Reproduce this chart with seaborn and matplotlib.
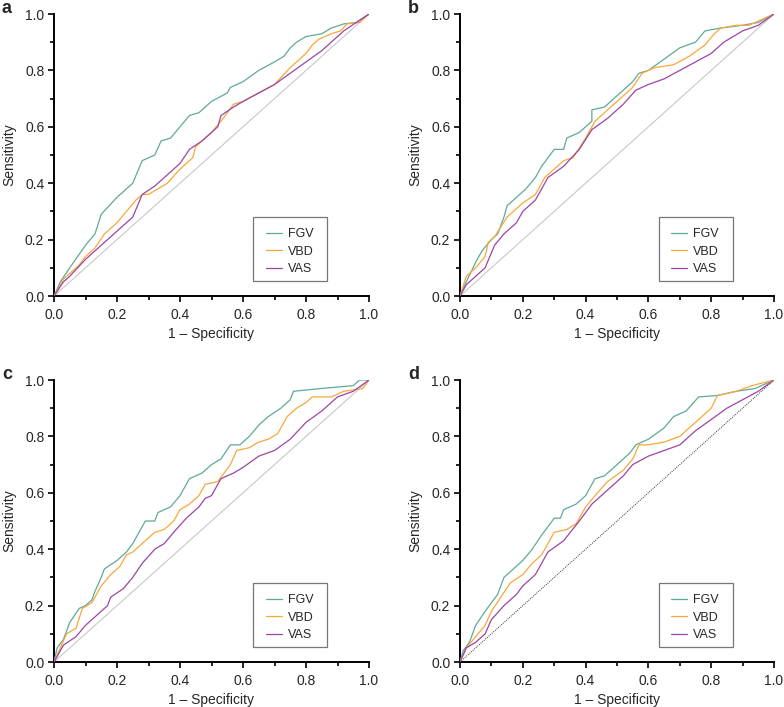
import matplotlib
matplotlib.use("Agg")
import matplotlib.pyplot as plt
import seaborn as sns
import pandas as pd
from matplotlib.ticker import MultipleLocator
from matplotlib.patches import Rectangle

sns.set_style("ticks")
plt.rcParams['font.family'] = ['Liberation Sans', 'DejaVu Sans']

series_names = ["FGV", "VBD", "VAS"]
colors = {"FGV": "#5fa99b", "VBD": "#f7a83a", "VAS": "#9c45a6"}
panel_labels = ["a", "b", "c", "d"]
tick_vals = [0, 0.2, 0.4, 0.6, 0.8, 1.0]
tick_labels = ["0.0", "0.2", "0.4", "0.6", "0.8", "1.0"]

# ---- Panel a ----
a_fgv_x = [0, 0.02, 0.05, 0.1, 0.13, 0.15, 0.2, 0.22, 0.25, 0.28, 0.32, 0.34, 0.37, 0.40, 0.43, 0.46, 0.5, 0.55, 0.56, 0.6, 0.65, 0.7, 0.73, 0.75, 0.77, 0.8, 0.85, 0.88, 0.92, 0.96, 1]
a_fgv_y = [0, 0.05, 0.10, 0.18, 0.22, 0.29, 0.35, 0.37, 0.40, 0.48, 0.50, 0.55, 0.56, 0.60, 0.64, 0.65, 0.69, 0.72, 0.74, 0.76, 0.80, 0.83, 0.85, 0.88, 0.90, 0.92, 0.93, 0.95, 0.965, 0.97, 1]
a_vbd_x = [0, 0.03, 0.05, 0.08, 0.1, 0.13, 0.16, 0.2, 0.23, 0.26, 0.28, 0.3, 0.33, 0.36, 0.4, 0.43, 0.44, 0.45, 0.5, 0.53, 0.57, 0.6, 0.65, 0.7, 0.75, 0.8, 0.82, 0.84, 0.88, 0.91, 0.93, 0.97, 1]
a_vbd_y = [0, 0.06, 0.08, 0.11, 0.14, 0.17, 0.22, 0.26, 0.30, 0.34, 0.36, 0.36, 0.38, 0.40, 0.45, 0.48, 0.49, 0.53, 0.58, 0.62, 0.68, 0.69, 0.72, 0.75, 0.81, 0.86, 0.89, 0.91, 0.93, 0.94, 0.965, 0.97, 1]
a_vas_x = [0, 0.03, 0.05, 0.1, 0.15, 0.2, 0.25, 0.28, 0.32, 0.36, 0.4, 0.43, 0.47, 0.5, 0.52, 0.53, 0.57, 0.6, 0.65, 0.7, 0.75, 0.8, 0.85, 0.88, 0.92, 0.96, 1]
a_vas_y = [0, 0.05, 0.07, 0.13, 0.18, 0.23, 0.28, 0.36, 0.39, 0.43, 0.47, 0.52, 0.55, 0.58, 0.60, 0.64, 0.67, 0.69, 0.72, 0.75, 0.79, 0.83, 0.87, 0.90, 0.94, 0.97, 1]

# ---- Panel b ----
b_fgv_x = [0, 0.02, 0.05, 0.07, 0.1, 0.12, 0.14, 0.15, 0.18, 0.21, 0.24, 0.26, 0.28, 0.3, 0.33, 0.34, 0.38, 0.42, 0.42, 0.46, 0.5, 0.55, 0.57, 0.6, 0.65, 0.7, 0.75, 0.78, 0.83, 0.9, 0.95, 1]
b_fgv_y = [0, 0.05, 0.12, 0.16, 0.20, 0.22, 0.28, 0.32, 0.35, 0.38, 0.42, 0.46, 0.49, 0.52, 0.52, 0.56, 0.58, 0.62, 0.66, 0.67, 0.71, 0.76, 0.79, 0.80, 0.84, 0.88, 0.90, 0.94, 0.95, 0.96, 0.97, 1]
b_vbd_x = [0, 0.02, 0.05, 0.08, 0.09, 0.11, 0.15, 0.2, 0.24, 0.27, 0.3, 0.33, 0.36, 0.4, 0.43, 0.47, 0.52, 0.55, 0.58, 0.62, 0.68, 0.73, 0.78, 0.81, 0.83, 0.88, 0.92, 0.96, 1]
b_vbd_y = [0, 0.07, 0.10, 0.14, 0.19, 0.21, 0.28, 0.33, 0.36, 0.42, 0.45, 0.48, 0.49, 0.56, 0.62, 0.66, 0.71, 0.74, 0.79, 0.81, 0.82, 0.85, 0.89, 0.93, 0.95, 0.96, 0.96, 0.98, 1]
b_vas_x = [0, 0.02, 0.05, 0.08, 0.11, 0.14, 0.18, 0.2, 0.24, 0.28, 0.33, 0.38, 0.42, 0.47, 0.52, 0.56, 0.6, 0.65, 0.7, 0.75, 0.8, 0.84, 0.9, 0.95, 1]
b_vas_y = [0, 0.04, 0.07, 0.10, 0.18, 0.22, 0.26, 0.30, 0.34, 0.42, 0.46, 0.52, 0.59, 0.63, 0.68, 0.73, 0.75, 0.77, 0.80, 0.83, 0.86, 0.90, 0.94, 0.96, 1]

# ---- Panel c ----
c_fgv_x = [0, 0.01, 0.03, 0.05, 0.08, 0.1, 0.12, 0.13, 0.15, 0.16, 0.2, 0.23, 0.25, 0.27, 0.29, 0.32, 0.33, 0.37, 0.4, 0.43, 0.47, 0.5, 0.53, 0.56, 0.59, 0.62, 0.65, 0.68, 0.72, 0.75, 0.76, 0.85, 0.95, 0.97, 1]
c_fgv_y = [0, 0.05, 0.08, 0.14, 0.19, 0.20, 0.22, 0.25, 0.30, 0.33, 0.36, 0.39, 0.42, 0.46, 0.50, 0.50, 0.53, 0.55, 0.59, 0.65, 0.67, 0.70, 0.72, 0.77, 0.77, 0.80, 0.84, 0.87, 0.90, 0.93, 0.96, 0.97, 0.98, 1.0, 1]
c_vbd_x = [0, 0.02, 0.04, 0.07, 0.09, 0.12, 0.15, 0.18, 0.21, 0.23, 0.25, 0.28, 0.32, 0.35, 0.38, 0.4, 0.43, 0.46, 0.48, 0.52, 0.56, 0.58, 0.62, 0.65, 0.68, 0.71, 0.74, 0.77, 0.80, 0.82, 0.88, 0.92, 0.98, 1]
c_vbd_y = [0, 0.05, 0.10, 0.12, 0.19, 0.21, 0.27, 0.31, 0.34, 0.38, 0.39, 0.42, 0.46, 0.47, 0.50, 0.54, 0.56, 0.59, 0.63, 0.64, 0.70, 0.75, 0.76, 0.78, 0.79, 0.81, 0.87, 0.90, 0.92, 0.94, 0.94, 0.96, 0.97, 1]
c_vas_x = [0, 0.03, 0.07, 0.1, 0.15, 0.17, 0.18, 0.22, 0.25, 0.28, 0.32, 0.35, 0.38, 0.42, 0.46, 0.48, 0.5, 0.53, 0.57, 0.6, 0.65, 0.7, 0.75, 0.8, 0.85, 0.9, 0.95, 1]
c_vas_y = [0, 0.06, 0.09, 0.13, 0.18, 0.20, 0.23, 0.26, 0.30, 0.35, 0.40, 0.42, 0.46, 0.51, 0.55, 0.58, 0.59, 0.65, 0.67, 0.69, 0.73, 0.75, 0.79, 0.85, 0.89, 0.94, 0.96, 1]

# ---- Panel d ----
d_fgv_x = [0, 0.01, 0.03, 0.05, 0.08, 0.1, 0.12, 0.14, 0.16, 0.2, 0.23, 0.26, 0.28, 0.3, 0.32, 0.33, 0.37, 0.4, 0.43, 0.46, 0.5, 0.54, 0.56, 0.6, 0.65, 0.68, 0.72, 0.76, 0.82, 0.88, 0.94, 1]
d_fgv_y = [0, 0.04, 0.07, 0.13, 0.18, 0.21, 0.24, 0.30, 0.32, 0.36, 0.40, 0.45, 0.48, 0.51, 0.51, 0.54, 0.56, 0.59, 0.65, 0.66, 0.70, 0.74, 0.77, 0.79, 0.83, 0.87, 0.89, 0.94, 0.945, 0.96, 0.97, 1]
d_vbd_x = [0, 0.02, 0.05, 0.08, 0.1, 0.13, 0.16, 0.2, 0.23, 0.26, 0.28, 0.3, 0.34, 0.37, 0.4, 0.43, 0.47, 0.52, 0.55, 0.57, 0.6, 0.65, 0.7, 0.73, 0.77, 0.8, 0.82, 0.88, 0.93, 1]
d_vbd_y = [0, 0.05, 0.09, 0.13, 0.18, 0.23, 0.28, 0.31, 0.35, 0.38, 0.42, 0.46, 0.47, 0.49, 0.55, 0.59, 0.64, 0.68, 0.72, 0.77, 0.77, 0.78, 0.80, 0.83, 0.87, 0.90, 0.945, 0.96, 0.98, 1]
d_vas_x = [0, 0.02, 0.05, 0.08, 0.1, 0.14, 0.18, 0.2, 0.24, 0.28, 0.33, 0.38, 0.42, 0.47, 0.52, 0.55, 0.6, 0.65, 0.7, 0.75, 0.8, 0.85, 0.9, 0.95, 1]
d_vas_y = [0, 0.05, 0.07, 0.10, 0.15, 0.20, 0.24, 0.27, 0.31, 0.39, 0.43, 0.50, 0.56, 0.61, 0.66, 0.70, 0.73, 0.75, 0.77, 0.82, 0.86, 0.90, 0.93, 0.96, 1]

panels = [
    {"FGV": (a_fgv_x, a_fgv_y), "VBD": (a_vbd_x, a_vbd_y), "VAS": (a_vas_x, a_vas_y)},
    {"FGV": (b_fgv_x, b_fgv_y), "VBD": (b_vbd_x, b_vbd_y), "VAS": (b_vas_x, b_vas_y)},
    {"FGV": (c_fgv_x, c_fgv_y), "VBD": (c_vbd_x, c_vbd_y), "VAS": (c_vas_x, c_vas_y)},
    {"FGV": (d_fgv_x, d_fgv_y), "VBD": (d_vbd_x, d_vbd_y), "VAS": (d_vas_x, d_vas_y)},
]

fig = plt.figure(figsize=(7.84, 7.07), dpi=100)
W, H = 784, 707
boxes = [(54, 14, 369, 296), (460, 14, 774, 296), (54, 380, 369, 662), (460, 380, 774, 662)]

tick_fs = 10
label_fs = 10
leg_fs = 9
for i, (panel, box) in enumerate(zip(panels, boxes)):
    x0, y0, x1, y1 = box
    ax = fig.add_axes([x0 / W, 1 - y1 / H, (x1 - x0) / W, (y1 - y0) / H])
    rows = []
    for name in series_names:
        xs, ys = panel[name]
        for k, (xv, yv) in enumerate(zip(xs, ys)):
            rows.append({"fpr": xv, "tpr": yv, "series": name, "order": k})
    df = pd.DataFrame(rows)
    # reference diagonal
    if i == 3:
        ax.plot([0, 1], [0, 1], color="#333333", lw=0.7, ls=(0, (1, 1.2)), zorder=1)
    else:
        ax.plot([0, 1], [0, 1], color="#c8c8c8", lw=0.8, zorder=1)
    sns.lineplot(data=df, x="fpr", y="tpr", hue="series", hue_order=series_names,
                 palette=colors, estimator=None, sort=False, lw=0.9, ax=ax, zorder=3)
    ax.set_xlim(0, 1)
    ax.set_ylim(0, 1)
    ax.set_xticks(tick_vals)
    ax.set_yticks(tick_vals)
    ax.xaxis.set_minor_locator(MultipleLocator(0.1))
    ax.yaxis.set_minor_locator(MultipleLocator(0.1))
    ax.set_xticklabels(tick_labels)
    ax.set_yticklabels(tick_labels)
    ax.tick_params(axis="both", which="major", direction="out", length=4.0, width=1.2,
                   labelsize=tick_fs, color="black")
    ax.tick_params(axis="x", which="major", pad=4.5)
    ax.tick_params(axis="y", which="major", pad=3.0)
    ax.tick_params(axis="both", which="minor", direction="out", length=2.6, width=1.2, color="black")
    for s in ["top", "right"]:
        ax.spines[s].set_visible(False)
    for s in ["left", "bottom"]:
        ax.spines[s].set_linewidth(1.4)
        ax.spines[s].set_color("black")
    ax.set_xlabel("1 – Specificity", fontsize=label_fs, labelpad=4)
    ax.set_ylabel("Sensitivity", fontsize=label_fs, labelpad=6)
    # legend (frame drawn separately to match the wide box)
    leg = ax.legend(loc="center left", bbox_to_anchor=(0.672, 0.157), fontsize=leg_fs,
                    frameon=False, handlelength=1.3, handletextpad=0.45,
                    borderpad=0, labelspacing=0.42, borderaxespad=0)
    ax.add_patch(Rectangle((0.633, 0.053), 0.235, 0.227, transform=ax.transAxes,
                           facecolor="white", edgecolor="#777777", lw=0.9, zorder=4))
    leg.set_zorder(5)
    fig.text((x0 - 52) / W, 1 - (y0 - 1) / H, panel_labels[i], fontsize=13, fontweight="bold",
             ha="left", va="baseline")

fig.savefig("out.png", dpi=100)
